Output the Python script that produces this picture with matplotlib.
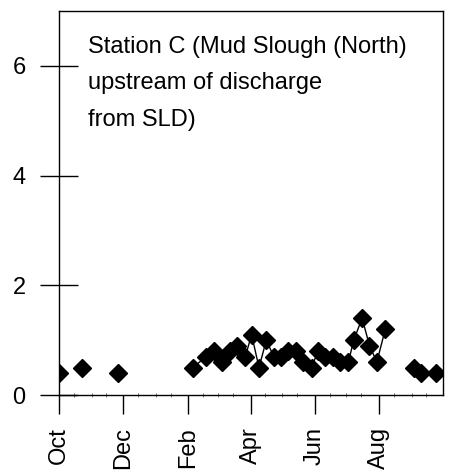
import matplotlib
matplotlib.use("Agg")
import matplotlib.pyplot as plt
import matplotlib.dates as mdates
import numpy as np

plt.rcParams["font.family"] = ["Liberation Sans", "DejaVu Sans"]

# sample dates (water year Oct-Sep) and measured values
dates = [
    "2000-10-01", "2000-10-23", "2000-11-26",
    "2001-02-05", "2001-02-18", "2001-02-25", "2001-03-05", "2001-03-12",
    "2001-03-19", "2001-03-27", "2001-04-02", "2001-04-09", "2001-04-16",
    "2001-04-23", "2001-04-30", "2001-05-07", "2001-05-14", "2001-05-21",
    "2001-05-29", "2001-06-04", "2001-06-11", "2001-06-18", "2001-06-25",
    "2001-07-03", "2001-07-08", "2001-07-16", "2001-07-23", "2001-07-30",
    "2001-08-07",
    "2001-09-03", "2001-09-10", "2001-09-24",
]
values = [
    0.4, 0.5, 0.4,
    0.5, 0.7, 0.8, 0.6, 0.8,
    0.9, 0.7, 1.1, 0.5, 1.0,
    0.7, 0.7, 0.8, 0.8, 0.6,
    0.5, 0.8, 0.7, 0.7, 0.6,
    0.6, 1.0, 1.4, 0.9, 0.6,
    1.2,
    0.5, 0.4, 0.4,
]
station_label = "Station C (Mud Slough (North)\nupstream of discharge\nfrom SLD)"

x = np.array(dates, dtype="datetime64[D]")
y = np.array(values, dtype=float)

# break the connecting line where sampling gap is long
gap = np.diff(x).astype(int)
line_x = [x[0]]
line_y = [y[0]]
for i in range(1, len(x)):
    if gap[i - 1] > 20:
        line_x.append(x[i - 1] + np.timedelta64(1, "D"))
        line_y.append(np.nan)
    line_x.append(x[i])
    line_y.append(y[i])

fig = plt.figure(figsize=(4.49, 4.75), dpi=100)
ax = fig.add_axes([59 / 449, 1 - 395 / 475, 384 / 449, 384 / 475])

ax.plot(np.array(line_x), line_y, color="black", lw=1)
ax.plot(x, y, linestyle="none", marker="D", markersize=9, color="black")

ax.set_xlim(np.datetime64("2000-10-01"), np.datetime64("2001-09-30T20:00"))
ax.set_ylim(0, 7)

ax.xaxis.set_major_locator(mdates.MonthLocator(bymonth=[10, 12, 2, 4, 6, 8]))
ax.xaxis.set_major_formatter(mdates.DateFormatter("%b"))
ax.xaxis.set_minor_locator(mdates.MonthLocator(bymonthday=[1, 15]))
ax.set_yticks([0, 2, 4, 6])

ax.tick_params(axis="y", which="major", direction="inout", length=28, width=1,
               labelsize=17, pad=10)
ax.tick_params(axis="x", which="major", direction="out", length=14, width=1,
               labelsize=17, pad=9, labelrotation=90)
ax.tick_params(axis="x", which="minor", direction="inout", length=3, width=0.6,
               color="#555555")

for s in ax.spines.values():
    s.set_linewidth(1)

ax.text(0.076, 0.935, station_label, transform=ax.transAxes, fontsize=17,
        va="top", ha="left", linespacing=1.85)

fig.savefig("out.png", dpi=100)
